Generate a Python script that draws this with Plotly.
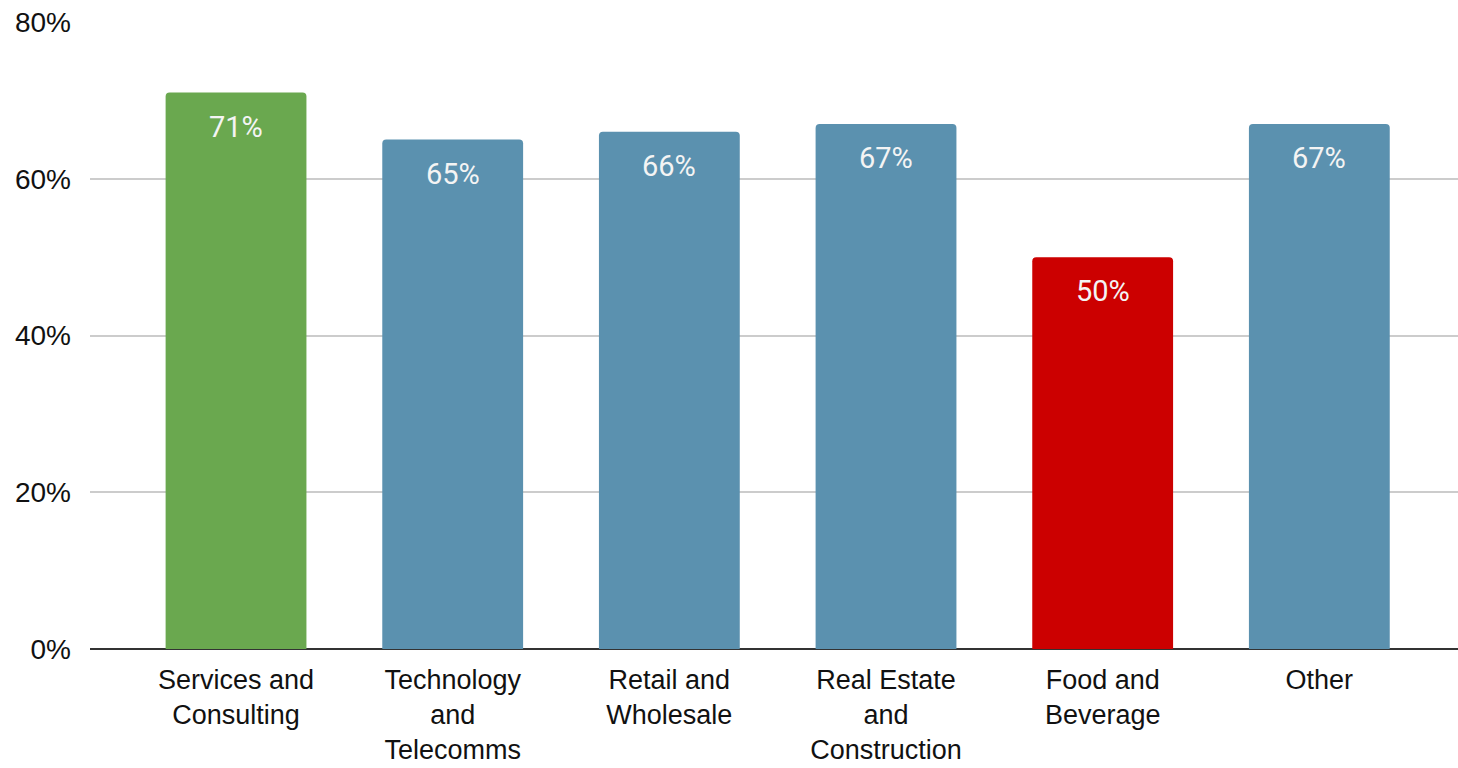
import plotly.graph_objects as go

categories = [
    "Services and<br>Consulting",
    "Technology<br>and<br>Telecomms",
    "Retail and<br>Wholesale",
    "Real Estate<br>and<br>Construction",
    "Food and<br>Beverage",
    "Other",
]
values = [0.71, 0.65, 0.66, 0.67, 0.50, 0.67]
bar_colors = ["#6aa84f", "#5b91af", "#5b91af", "#5b91af", "#cc0000", "#5b91af"]
y_ticks = [0, 0.2, 0.4, 0.6, 0.8]
y_tick_labels = ["0%", "20%", "40%", "60%", "80%"]

x_pos = list(range(len(categories)))

fig = go.Figure(
    go.Bar(
        x=x_pos,
        y=values,
        width=0.65,
        marker=dict(color=bar_colors, line=dict(width=0)),
        hoverinfo="skip",
    )
)

# value labels just inside the top of each bar
for xi, v in zip(x_pos, values):
    fig.add_annotation(
        x=xi, y=v, text=f"{round(v * 100)}%",
        showarrow=False, yanchor="middle", yshift=-34,
        font=dict(family="Roboto", size=29, color="#f4f4f4"),
    )

fig.update_layout(
    width=1458,
    height=768,
    margin=dict(l=90, r=0, t=22, b=119),
    paper_bgcolor="#ffffff",
    plot_bgcolor="#ffffff",
    showlegend=False,
    barcornerradius=4,
    xaxis=dict(
        range=[-0.674, 5.64],
        tickmode="array",
        tickvals=x_pos,
        ticktext=categories,
        showgrid=False,
        zeroline=False,
        ticks="",
        ticklabelstandoff=12,
        tickfont=dict(family="Liberation Sans, Arial", size=27, color="#111111"),
        automargin=False,
        fixedrange=True,
    ),
    yaxis=dict(
        range=[0, 0.8],
        tickmode="array",
        tickvals=y_ticks,
        ticktext=y_tick_labels,
        showgrid=True,
        gridcolor="#cccccc",
        gridwidth=2,
        zeroline=True,
        zerolinecolor="#333333",
        zerolinewidth=2,
        ticks="",
        ticklabelstandoff=18,
        tickfont=dict(family="Liberation Sans, Arial", size=28, color="#111111"),
        automargin=False,
        fixedrange=True,
    ),
)

fig.write_html("out.html")
